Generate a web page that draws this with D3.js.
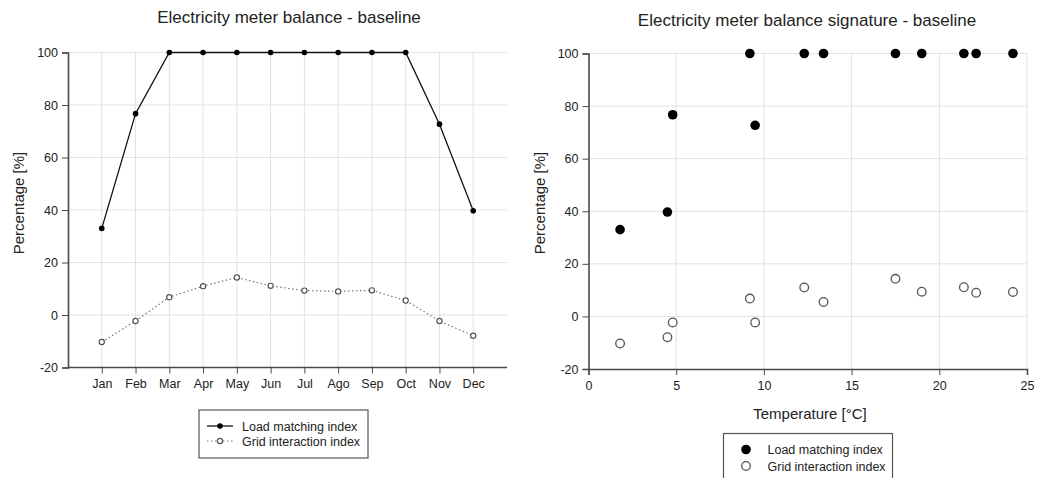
<!DOCTYPE html>
<html>
<head>
<meta charset="utf-8">
<script src="https://cdn.jsdelivr.net/npm/d3@7"></script>
<style>
  body { margin: 0; background: #fff; }
  svg { display: block; font-family: "Liberation Sans", Arial, sans-serif; }
</style>
</head>
<body>
<div id="chart"></div>
<script>
// Monthly balance indexes and the month's mean temperature
const months = ["Jan", "Feb", "Mar", "Apr", "May", "Jun", "Jul", "Ago", "Sep", "Oct", "Nov", "Dec"];
const loadMatching = [33, 76.7, 100, 100, 100, 100, 100, 100, 100, 100, 72.7, 39.7];
const gridInteraction = [-10.3, -2.3, 6.8, 11, 14.3, 11.1, 9.3, 9.0, 9.4, 5.5, -2.3, -7.9];
const temperature = [1.8, 4.8, 9.2, 12.3, 17.5, 21.4, 24.2, 22.1, 19.0, 13.4, 9.5, 4.5];

const yTicks = [-20, 0, 20, 40, 60, 80, 100];
const tempTicks = [0, 5, 10, 15, 20, 25];
const seriesNames = ["Load matching index", "Grid interaction index"];

const width = 1037, height = 478;
const axisColor = "#4a4a4a";
const gridColor = "#e2e2e2";
const plain = d => String(d);   // keep the ascii hyphen on negatives

const svg = d3.select("#chart").append("svg")
    .attr("width", width)
    .attr("height", height);

const yL = d3.scaleLinear().domain([-20, 100]).range([367.5, 52.5]);
const yR = d3.scaleLinear().domain([-20, 100]).range([369, 53.5]);

function styleAxis(a) {
    a.select(".domain").attr("stroke", axisColor).attr("stroke-width", 1.6);
    a.selectAll(".tick line").attr("stroke", axisColor);
    a.selectAll(".tick text")
        .attr("font-size", 12.5).attr("fill", "#222")
        .attr("font-family", "Liberation Sans, Arial, sans-serif");
}

// ---------- left panel: monthly line chart ----------
const left = svg.append("g");
const xL = d3.scalePoint().domain(months).range([68, 507]).padding(1);

left.append("text")
    .attr("x", 289).attr("y", 23)
    .attr("text-anchor", "middle")
    .attr("font-size", 17).attr("fill", "#222")
    .text("Electricity meter balance - baseline");

// grid
left.append("g").selectAll("line")
    .data(yTicks.filter(d => d > -20))
    .join("line")
    .attr("x1", 68).attr("x2", 507)
    .attr("y1", d => yL(d)).attr("y2", d => yL(d))
    .attr("stroke", gridColor);
left.append("g").selectAll("line")
    .data(months)
    .join("line")
    .attr("x1", d => xL(d)).attr("x2", d => xL(d))
    .attr("y1", yL(100)).attr("y2", yL(-20))
    .attr("stroke", gridColor);

const yAxisL = left.append("g")
    .attr("transform", "translate(68,0)")
    .call(d3.axisLeft(yL).tickValues(yTicks).tickFormat(plain).tickSize(6).tickPadding(4));
const xAxisL = left.append("g")
    .attr("transform", `translate(0,${yL(-20)})`)
    .call(d3.axisBottom(xL).tickSize(6).tickPadding(6));
xAxisL.select(".domain").attr("d", "M68,0H507");
styleAxis(yAxisL);
styleAxis(xAxisL);

left.append("text")
    .attr("transform", `translate(24,203) rotate(-90)`)
    .attr("text-anchor", "middle")
    .attr("font-size", 15).attr("fill", "#222")
    .text("Percentage [%]");

const lineL = vals => d3.line().x((d, i) => xL(months[i])).y(d => yL(d))(vals);
left.append("path")
    .attr("d", lineL(loadMatching))
    .attr("fill", "none").attr("stroke", "#111").attr("stroke-width", 1.3);
left.append("path")
    .attr("d", lineL(gridInteraction))
    .attr("fill", "none").attr("stroke", "#777").attr("stroke-width", 1.2)
    .attr("stroke-dasharray", "1.5,2.5");

left.append("g").selectAll("circle")
    .data(loadMatching)
    .join("circle")
    .attr("cx", (d, i) => xL(months[i])).attr("cy", d => yL(d))
    .attr("r", 2.8).attr("fill", "#000");
left.append("g").selectAll("circle")
    .data(gridInteraction)
    .join("circle")
    .attr("cx", (d, i) => xL(months[i])).attr("cy", d => yL(d))
    .attr("r", 2.6).attr("fill", "#fff").attr("stroke", "#555").attr("stroke-width", 1.2);

// legend
const legL = left.append("g").attr("transform", "translate(199,410)");
legL.append("rect").attr("width", 169).attr("height", 48)
    .attr("fill", "#fff").attr("stroke", "#555").attr("stroke-width", 1.2);
seriesNames.forEach((name, i) => {
    const ly = 16 + i * 15;
    legL.append("line")
        .attr("x1", 8).attr("x2", 34).attr("y1", ly).attr("y2", ly)
        .attr("stroke", i === 0 ? "#111" : "#777")
        .attr("stroke-width", i === 0 ? 1.3 : 1.2)
        .attr("stroke-dasharray", i === 0 ? null : "1.5,2.5");
    legL.append("circle")
        .attr("cx", 21).attr("cy", ly).attr("r", i === 0 ? 2.8 : 2.6)
        .attr("fill", i === 0 ? "#000" : "#fff")
        .attr("stroke", i === 0 ? null : "#555").attr("stroke-width", 1.2);
    legL.append("text")
        .attr("x", 43).attr("y", ly + 4.5)
        .attr("font-size", 12.5).attr("fill", "#222")
        .text(name);
});

// ---------- right panel: temperature signature ----------
const right = svg.append("g");
const xR = d3.scaleLinear().domain([0, 25]).range([588.5, 1027]);

right.append("text")
    .attr("x", 807).attr("y", 26)
    .attr("text-anchor", "middle")
    .attr("font-size", 17).attr("fill", "#222")
    .text("Electricity meter balance signature - baseline");

right.append("g").selectAll("line")
    .data(yTicks.filter(d => d > -20))
    .join("line")
    .attr("x1", xR(0)).attr("x2", xR(25))
    .attr("y1", d => yR(d)).attr("y2", d => yR(d))
    .attr("stroke", gridColor);
right.append("g").selectAll("line")
    .data(tempTicks.filter(d => d > 0))
    .join("line")
    .attr("x1", d => xR(d)).attr("x2", d => xR(d))
    .attr("y1", yR(100)).attr("y2", yR(-20))
    .attr("stroke", gridColor);

const yAxisR = right.append("g")
    .attr("transform", `translate(${xR(0)},0)`)
    .call(d3.axisLeft(yR).tickValues(yTicks).tickFormat(plain).tickSize(6).tickPadding(4));
const xAxisR = right.append("g")
    .attr("transform", `translate(0,${yR(-20)})`)
    .call(d3.axisBottom(xR).tickValues(tempTicks).tickFormat(plain).tickSize(6).tickPadding(6));
styleAxis(yAxisR);
styleAxis(xAxisR);

right.append("text")
    .attr("transform", `translate(545,203) rotate(-90)`)
    .attr("text-anchor", "middle")
    .attr("font-size", 15).attr("fill", "#222")
    .text("Percentage [%]");
right.append("text")
    .attr("x", 810).attr("y", 419)
    .attr("text-anchor", "middle")
    .attr("font-size", 15).attr("fill", "#222")
    .text("Temperature [°C]");

right.append("g").selectAll("circle")
    .data(gridInteraction)
    .join("circle")
    .attr("cx", (d, i) => xR(temperature[i])).attr("cy", d => yR(d))
    .attr("r", 4.3).attr("fill", "#fff").attr("stroke", "#555").attr("stroke-width", 1.3);
right.append("g").selectAll("circle")
    .data(loadMatching)
    .join("circle")
    .attr("cx", (d, i) => xR(temperature[i])).attr("cy", d => yR(d))
    .attr("r", 4.8).attr("fill", "#000");

const legR = right.append("g").attr("transform", "translate(723.5,433.5)");
legR.append("rect").attr("width", 169).attr("height", 60)
    .attr("fill", "#fff").attr("stroke", "#555").attr("stroke-width", 1.2);
seriesNames.forEach((name, i) => {
    const ly = 16 + i * 16.5;
    legR.append("circle")
        .attr("cx", 22.5).attr("cy", ly).attr("r", i === 0 ? 4.8 : 4.3)
        .attr("fill", i === 0 ? "#000" : "#fff")
        .attr("stroke", i === 0 ? null : "#555").attr("stroke-width", 1.3);
    legR.append("text")
        .attr("x", 44).attr("y", ly + 4.5)
        .attr("font-size", 12.5).attr("fill", "#222")
        .text(name);
});
</script>
</body>
</html>
